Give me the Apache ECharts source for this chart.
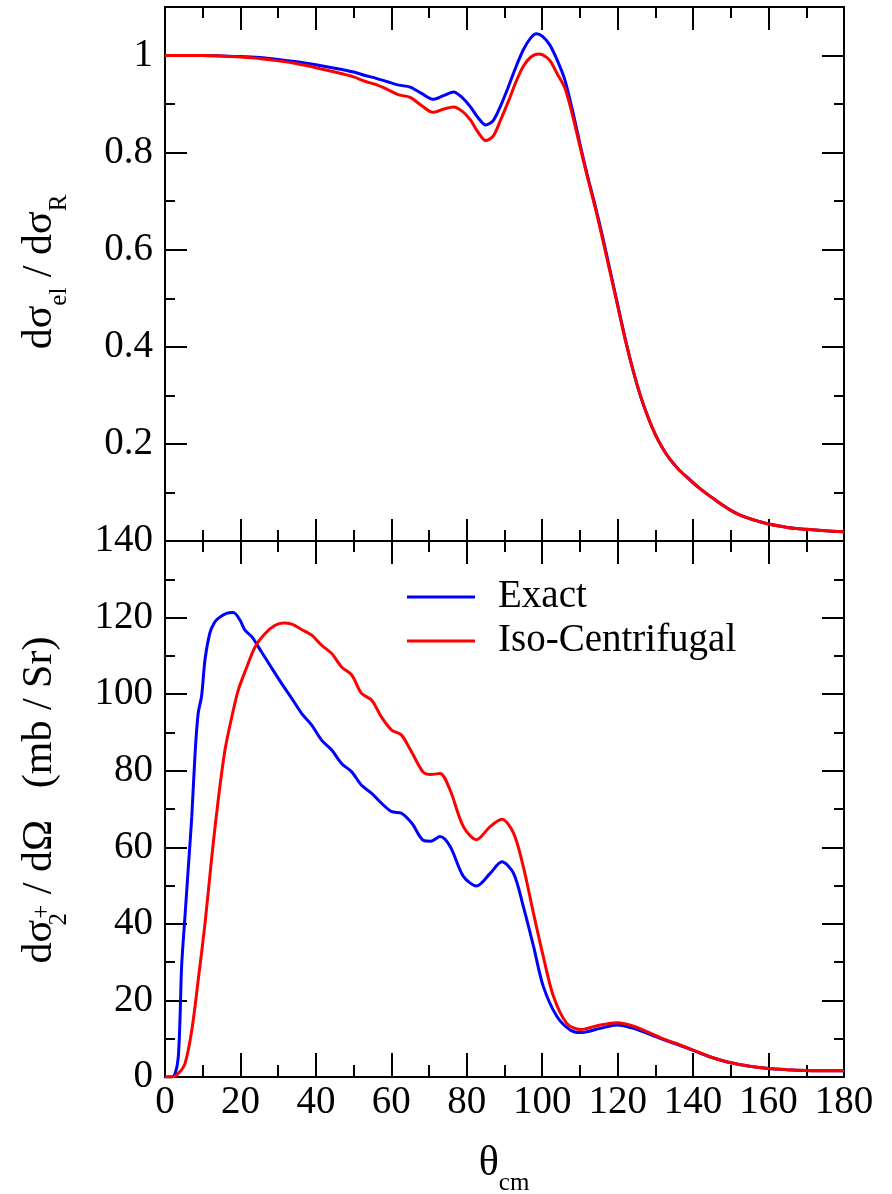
<!DOCTYPE html>
<html>
<head>
<meta charset="utf-8">
<script src="https://cdn.jsdelivr.net/npm/echarts@6/dist/echarts.min.js"></script>
<style>
  html, body { margin: 0; padding: 0; background: #fff; }
  #chart { width: 892px; height: 1194px; }
</style>
</head>
<body>
<div id="chart"></div>
<script>
// theta (deg) vs elastic ratio, upper panel
let topExact = [[0,1.0],[5,1.0],[10,1.0],[15,0.999],[20,0.998],[25,0.996],[30,0.992],[35,0.987],[40,0.981],[45,0.974],[50,0.966],[53,0.959],[56,0.953],[59,0.946],[62,0.939],[65,0.935],[68,0.922],[71,0.910],[74,0.918],[76.5,0.925],[79,0.912],[81,0.894],[83,0.872],[85,0.857],[87,0.866],[89,0.897],[91,0.935],[93,0.976],[95,1.012],[97,1.037],[98.5,1.045],[100,1.040],[102,1.022],[104,0.990],[106,0.950],[108,0.888],[110,0.818],[112,0.752],[114,0.692],[116,0.627],[118,0.557],[120,0.487],[122,0.417],[124,0.354],[126,0.300],[128,0.256],[130,0.219],[132,0.190],[134,0.167],[136,0.149],[138,0.134],[140,0.12],[142,0.107],[144,0.095],[146,0.084],[148,0.073],[150,0.063],[152,0.055],[155,0.046],[158,0.039],[160,0.035],[165,0.028],[170,0.024],[175,0.021],[180,0.019]];
let topIso = [[0,1.0],[5,1.0],[10,1.0],[15,0.999],[20,0.997],[25,0.994],[30,0.989],[35,0.983],[40,0.975],[45,0.966],[50,0.956],[53,0.947],[56,0.940],[59,0.930],[62,0.919],[65,0.914],[68,0.897],[71,0.883],[74,0.890],[76.5,0.894],[79,0.884],[81,0.867],[83,0.842],[85,0.825],[87,0.834],[89,0.868],[91,0.905],[93,0.945],[95,0.978],[97,0.997],[99,1.003],[100,1.002],[102,0.990],[104,0.962],[106,0.933],[108,0.878],[110,0.813],[112,0.749],[114,0.688],[116,0.622],[118,0.553],[120,0.484],[122,0.415],[124,0.354],[126,0.300],[128,0.256],[130,0.219],[132,0.190],[134,0.167],[136,0.149],[138,0.134],[140,0.12],[142,0.107],[144,0.095],[146,0.084],[148,0.073],[150,0.063],[152,0.055],[155,0.046],[158,0.039],[160,0.035],[165,0.028],[170,0.024],[175,0.021],[180,0.019]];

// theta (deg) vs 2+ cross section (mb/sr), lower panel
let bottomExact = [[0,0],[1.8,0],[2.7,0.9],[3.5,5],[4.0,15.8],[4.4,28.8],[5.3,42],[6.2,55],[7.1,68],[8.0,85],[8.8,95],[9.7,99.5],[10.6,109],[11.9,116],[13,118.5],[14.1,119.8],[16.3,121.1],[18.1,121.3],[19.9,119.3],[21.2,116.7],[23,115],[25.6,111],[28.3,106.8],[30.9,102.8],[33.6,98.9],[36.2,95],[38.9,91.9],[41.5,88],[44.2,85.4],[46.8,81.9],[49.5,79.7],[52.1,76.2],[54.8,74.1],[57.4,71.5],[60.1,69.3],[62.7,68.9],[65.5,66.2],[68.5,61.8],[70.5,61.6],[72.9,62.8],[75.6,60.2],[79.1,52.4],[82.6,49.9],[86.2,53.2],[89.3,56.2],[92.4,53.2],[95,44.5],[97.7,34.1],[100.3,23.6],[103.9,15.8],[107.4,12.3],[110.1,11.6],[115.4,12.7],[119.8,13.6],[124.2,12.7],[131.3,10.1],[137.5,7.9],[141.9,6.2],[145,5.1],[150,3.7],[155,2.8],[160,2.2],[165,1.9],[170,1.7],[175,1.6],[180,1.6]];
let bottomIso = [[0,0],[1.8,0],[3.5,0.9],[5.3,3.5],[7.1,12.2],[8.8,25.3],[10.6,40],[12.4,57.5],[14.1,72.3],[15.9,85.4],[17.7,94],[19.4,101],[21.7,107.1],[23.9,112.4],[26.5,115.8],[29.2,118],[31.4,118.6],[33.6,118.3],[36.2,116.9],[38.9,115.4],[41.5,112.8],[44.2,110.6],[46.8,107.1],[49.5,105],[52.1,100.2],[54.8,98.4],[57.4,94],[60.1,90.6],[62.7,89.3],[65.2,85.2],[68.4,79.7],[70.5,79.0],[72.9,79.3],[75.6,74.9],[79.1,65.4],[82.6,62.0],[86.2,65.4],[89.3,67.3],[92.4,63.7],[95,54.9],[97.7,42.7],[100.3,31.4],[103,21],[106.5,14],[110.1,12.4],[115.4,13.6],[119.8,14.2],[124.2,13.3],[131.3,10.3],[137.5,8.0],[141.9,6.3],[145,5.1],[150,3.7],[155,2.8],[160,2.2],[165,1.9],[170,1.7],[175,1.6],[180,1.6]];

let seriesNames = ['Exact', 'Iso-Centrifugal'];
let seriesColors = ['#0000ff', '#ff0000'];

const FONT = 'Liberation Serif';
const BLACK = '#000';

// common axis bits, ticks all point inside the frame
function axisBase(major, minor) {
    return {
        axisLine: { show: true, onZero: false, lineStyle: { color: BLACK, width: 2 } },
        axisTick: { show: true, inside: true, length: major, lineStyle: { color: BLACK, width: 2 } },
        minorTick: { show: true, splitNumber: 2, length: minor, lineStyle: { color: BLACK, width: 2 } },
        splitLine: { show: false },
        minorSplitLine: { show: false },
        axisLabel: { show: false }
    };
}

function xAxis(grid, position, major, minor, labels) {
    let ax = Object.assign(axisBase(major, minor), {
        type: 'value', gridIndex: grid, position: position,
        min: 0, max: 180, interval: 20
    });
    if (labels) {
        ax.axisLabel = { show: true, fontFamily: FONT, fontSize: 39, color: BLACK, margin: 6 };
    }
    return ax;
}

function yAxis(grid, position, max, interval, labels) {
    let ax = Object.assign(axisBase(22, 10), {
        type: 'value', gridIndex: grid, position: position,
        min: 0, max: max, interval: interval
    });
    if (labels) ax.axisLabel = labels;
    return ax;
}

let topLabels = {
    show: true, fontFamily: FONT, fontSize: 39, color: BLACK, margin: 12,
    formatter: v => (v > 0.05 && v < 1.05) ? String(+v.toFixed(1)) : ''
};
let bottomLabels = { show: true, fontFamily: FONT, fontSize: 39, color: BLACK, margin: 12 };

function line(name, data, color, xi, yi) {
    return {
        name: name, type: 'line', data: data, xAxisIndex: xi, yAxisIndex: yi,
        showSymbol: false, symbol: 'none', smooth: 0.3,
        lineStyle: { color: color, width: 3 }, itemStyle: { color: color }
    };
}

let mainTok = { fontFamily: FONT, fontSize: 42, lineHeight: 42, fill: BLACK };
let subTok = { fontFamily: FONT, fontSize: 25, lineHeight: 25, fill: BLACK, padding: [38, 0, 0, 0] };

let chart = echarts.init(document.getElementById('chart'));

let option = {
    animation: false,
    backgroundColor: '#fff',
    grid: [
        { left: 165, right: 48, top: 7, height: 534, outerBoundsMode: 'none' },
        { left: 165, right: 48, top: 541, height: 536, outerBoundsMode: 'none' }
    ],
    xAxis: [
        xAxis(0, 'bottom', 22, 11, false),
        xAxis(0, 'top', 23, 11, false),
        xAxis(1, 'top', 23, 11, false),
        xAxis(1, 'bottom', 24, 12, true)
    ],
    yAxis: [
        yAxis(0, 'left', 1.1, 0.2, topLabels),
        yAxis(0, 'right', 1.1, 0.2, null),
        yAxis(1, 'left', 140, 20, bottomLabels),
        yAxis(1, 'right', 140, 20, null)
    ],
    legend: {
        data: seriesNames,
        orient: 'vertical',
        left: 402, top: 570,
        icon: 'rect', itemWidth: 68, itemHeight: 3, itemGap: 0,
        textStyle: { fontFamily: FONT, fontSize: 39, color: BLACK, lineHeight: 44, padding: [0, 0, 0, 18] }
    },
    graphic: [
        {
            type: 'text', x: 40, y: 272, rotation: Math.PI / 2,
            style: {
                text: '{m|dσ}{s|el}{m| / dσ}{s|R}',
                align: 'center', verticalAlign: 'middle',
                rich: { m: mainTok, s: subTok }
            }
        },
        {
            type: 'text', x: 40, y: 800, rotation: Math.PI / 2,
            style: {
                text: '{m|dσ}{n|2}{p|+}{m| / dΩ   (mb / Sr)}',
                align: 'center', verticalAlign: 'middle',
                rich: {
                    m: mainTok,
                    n: Object.assign({}, subTok, { width: 1 }),
                    p: { fontFamily: FONT, fontSize: 25, lineHeight: 25, fill: BLACK, padding: [4, 0, 0, 0] }
                }
            }
        },
        {
            type: 'text', x: 504, y: 1164,
            style: {
                text: '{m|θ}{s|cm}',
                align: 'center', verticalAlign: 'middle',
                rich: { m: mainTok, s: subTok }
            }
        }
    ],
    series: [
        line(seriesNames[0], topExact, seriesColors[0], 0, 0),
        line(seriesNames[1], topIso, seriesColors[1], 0, 0),
        line(seriesNames[0], bottomExact, seriesColors[0], 3, 2),
        line(seriesNames[1], bottomIso, seriesColors[1], 3, 2)
    ]
};

chart.setOption(option);
window.addEventListener('resize', () => chart.resize());
</script>
</body>
</html>
